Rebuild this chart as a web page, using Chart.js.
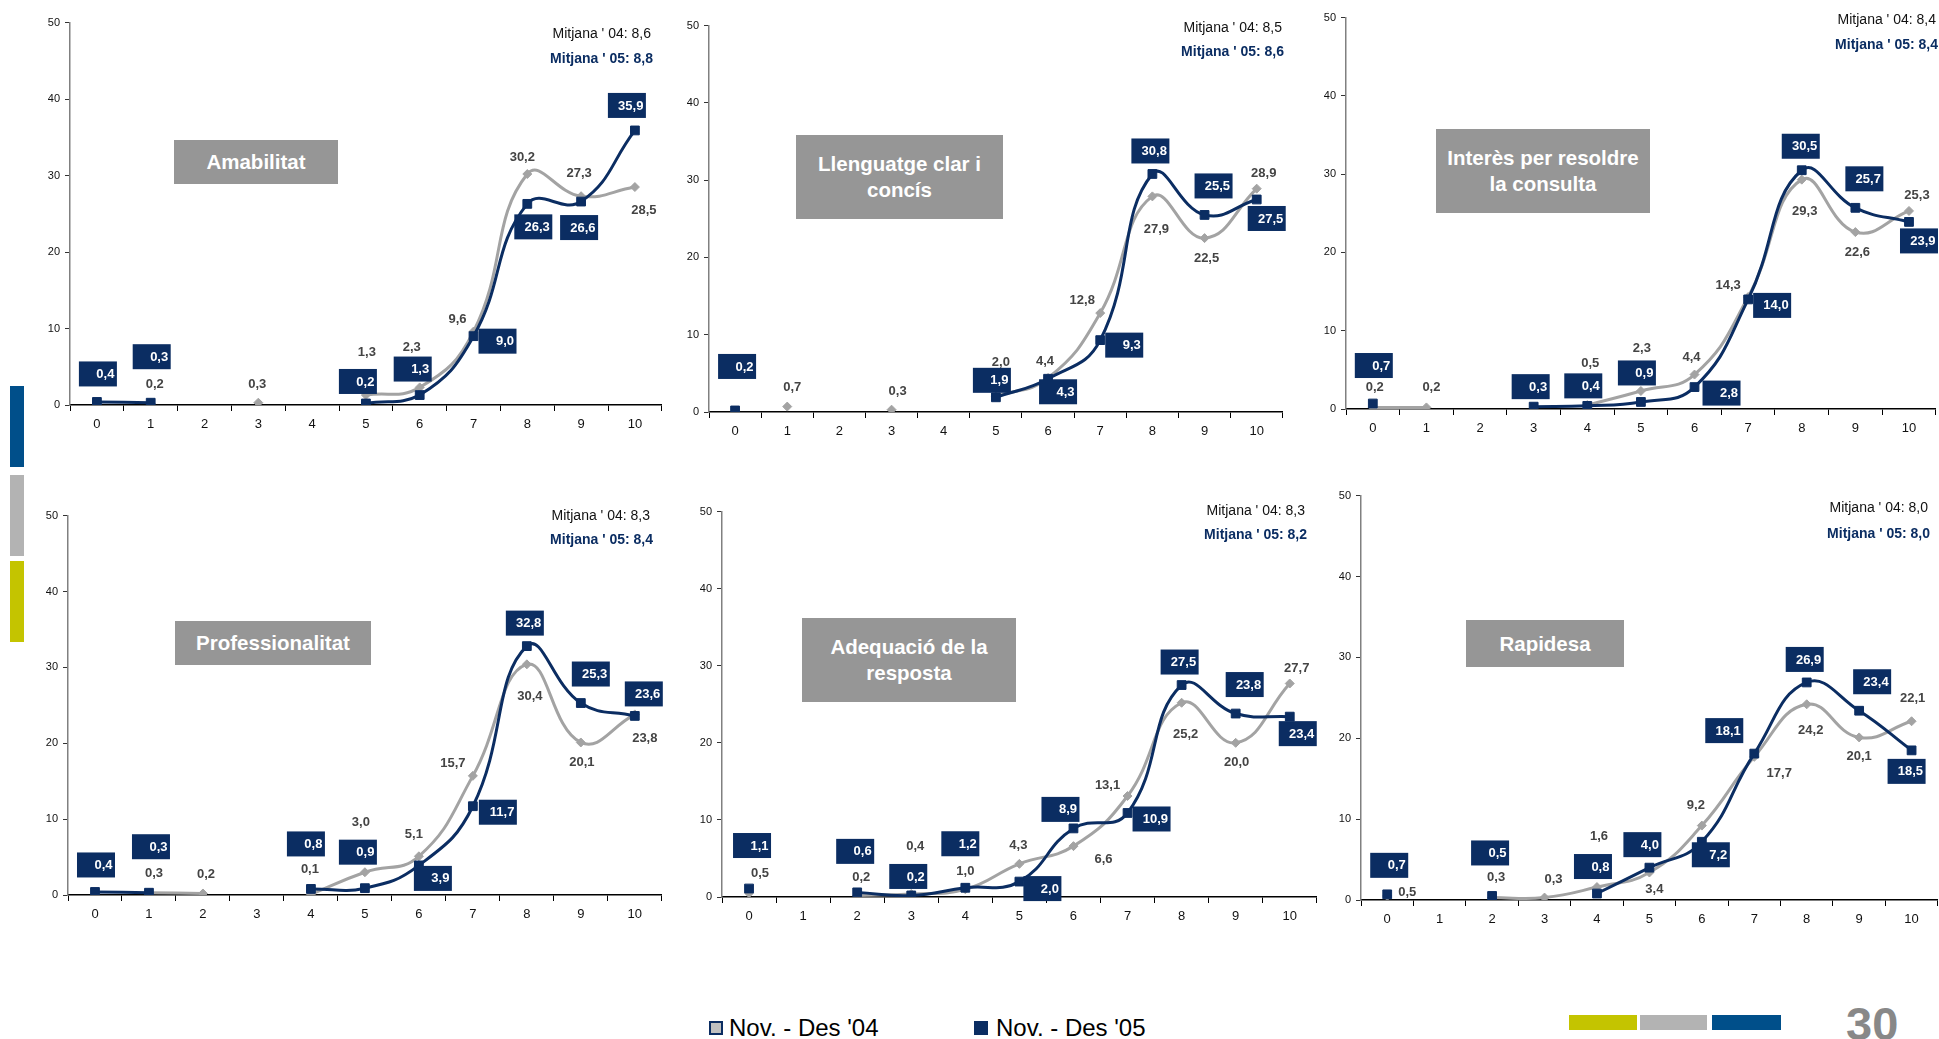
<!DOCTYPE html>
<html>
<head>
<meta charset="utf-8">
<script src="https://cdn.jsdelivr.net/npm/chart.js@4.4.1/dist/chart.umd.min.js"></script>
<style>
html, body { margin: 0; padding: 0; width: 1939px; height: 1039px; overflow: hidden; background: #fff; font-family: 'Liberation Sans', Arial, sans-serif; }
.panel { position: absolute; }
.titol { position: absolute; background: #969696; color: #fff; font-weight: bold; font-size: 20.5px; line-height: 26px; display: flex; align-items: center; justify-content: center; text-align: center; }
.mitjana { position: absolute; width: 220px; text-align: right; font-size: 14px; line-height: 16px; white-space: nowrap; }
.m04 { color: #111; }
.m05 { color: #0b2d62; font-weight: bold; }
.barra { position: absolute; }
.llegenda { position: absolute; font-size: 24px; line-height: 26px; color: #000; white-space: nowrap; }
.quadre { position: absolute; box-sizing: border-box; }
.pagina { position: absolute; left: 1846px; top: 999px; font-size: 47px; font-weight: bold; color: #888; line-height: 50px; }
</style>
</head>
<body>
<div class="barra" style="left:10px;top:386px;width:14px;height:81px;background:#004f8a"></div>
<div class="barra" style="left:10px;top:475px;width:14px;height:81px;background:#b3b3b3"></div>
<div class="barra" style="left:10px;top:561px;width:14px;height:81px;background:#c4c400"></div>

<div class="quadre" style="left:709px;top:1021px;width:14px;height:14px;background:#c0c0c0;border:2px solid #0b2d62"></div>
<div class="llegenda" style="left:729px;top:1015px">Nov. - Des '04</div>
<div class="quadre" style="left:974px;top:1021px;width:14px;height:14px;background:#0b2d62"></div>
<div class="llegenda" style="left:996px;top:1015px">Nov. - Des '05</div>

<div class="barra" style="left:1569px;top:1015px;width:68px;height:15px;background:#c4c400"></div>
<div class="barra" style="left:1640px;top:1015px;width:67px;height:15px;background:#b3b3b3"></div>
<div class="barra" style="left:1712px;top:1015px;width:69px;height:15px;background:#004f8a"></div>
<div class="pagina">30</div>

<script>
// Valoració 0-10, percentatges per puntuació
const scoreLabels = ['0', '1', '2', '3', '4', '5', '6', '7', '8', '9', '10'];
const yMax = 50;
const yStep = 10;

const titols = ['Amabilitat', 'Llenguatge clar i<br>concís', 'Interès per resoldre<br>la consulta',
    'Professionalitat', 'Adequació de la<br>resposta', 'Rapidesa'];

const amabilitat04 = [null, 0.2, null, 0.3, null, 1.3, 2.3, 9.6, 30.2, 27.3, 28.5];
const amabilitat05 = [0.4, 0.3, null, null, null, 0.2, 1.3, 9.0, 26.3, 26.6, 35.9];
const llenguatge04 = [null, 0.7, null, 0.3, null, 2.0, 4.4, 12.8, 27.9, 22.5, 28.9];
const llenguatge05 = [0.2, null, null, null, null, 1.9, 4.3, 9.3, 30.8, 25.5, 27.5];
const interes04 = [0.2, 0.2, null, null, 0.5, 2.3, 4.4, 14.3, 29.3, 22.6, 25.3];
const interes05 = [0.7, null, null, 0.3, 0.4, 0.9, 2.8, 14.0, 30.5, 25.7, 23.9];
const professionalitat04 = [null, 0.3, 0.2, null, 0.1, 3.0, 5.1, 15.7, 30.4, 20.1, 23.8];
const professionalitat05 = [0.4, 0.3, null, null, 0.8, 0.9, 3.9, 11.7, 32.8, 25.3, 23.6];
const adequacio04 = [0.5, null, 0.2, 0.4, 1.0, 4.3, 6.6, 13.1, 25.2, 20.0, 27.7];
const adequacio05 = [1.1, null, 0.6, 0.2, 1.2, 2.0, 8.9, 10.9, 27.5, 23.8, 23.4];
const rapidesa04 = [0.5, null, 0.3, 0.3, 1.6, 3.4, 9.2, 17.7, 24.2, 20.1, 22.1];
const rapidesa05 = [0.7, null, 0.5, null, 0.8, 4.0, 7.2, 18.1, 26.9, 23.4, 18.5];

const mitjana04 = [8.6, 8.5, 8.4, 8.3, 8.3, 8.0];
const mitjana05 = [8.8, 8.6, 8.4, 8.4, 8.2, 8.0];

const navy = '#0b2d62';
const grisLinia = '#a3a3a3';
const grisText = '#444';

// on va cada panell (area del grafic, caixa del titol, text de mitjanes)
const layout = [
    { plot: [70, 21, 593, 384], caixa: [174, 140, 164, 44], mit: [651, 33, 653, 58],
      off04: [null, [4, -19], null, [-1, -18], null, [1, -43], [-8, -40], [-16, -12], [-5, -17], [-2, -23], [9, 23]],
      off05: [[1, -28], [1, -46], null, null, null, [-8, -22], [-7, -26], [24, 5], [6, 23], [-2, 26], [-8, -25]] },
    { plot: [709, 24, 575, 388], caixa: [796, 135, 207, 84], mit: [1282, 27, 1284, 51],
      off04: [null, [5, -19], null, [6, -18], null, [5, -34], [-3, -17], [-18, -13], [4, 33], [2, 20], [7, -15]],
      off05: [[2, -44], null, null, null, null, [-4, -17], [10, 13], [24, 5], [-2, -23], [9, -29], [10, 19]] },
    { plot: [1346, 16, 591, 393], caixa: [1436, 129, 214, 84], mit: [1936, 19, 1938, 44],
      off04: [[2, -20], [5, -20], null, null, [3, -42], [1, -43], [-3, -17], [-20, -12], [3, 32], [2, 20], [8, -16]],
      off05: [[1, -38], null, null, [-3, -20], [-4, -20], [-4, -29], [27, 6], [24, 6], [-1, -24], [9, -29], [10, 19]] },
    { plot: [68, 514, 595, 381], caixa: [175, 621, 196, 44], mit: [650, 515, 653, 539],
      off04: [null, [5, -19], [3, -19], null, [-1, -25], [-4, -50], [-5, -22], [-20, -12], [3, 32], [1, 20], [10, 24]],
      off05: [[1, -27], [2, -46], null, null, [-5, -45], [-7, -36], [14, 13], [25, 6], [-2, -23], [10, -29], [9, -22]] },
    { plot: [722, 510, 596, 387], caixa: [802, 618, 214, 84], mit: [1305, 510, 1307, 534],
      off04: [[11, -20], null, [4, -18], [4, -47], [0, -18], [-1, -18], [30, 13], [-20, -11], [4, 32], [1, 20], [7, -15]],
      off05: [[3, -43], null, [-2, -41], [-3, -19], [-5, -44], [23, 7], [-13, -19], [24, 6], [-2, -23], [9, -29], [8, 17]] },
    { plot: [1361, 494, 578, 406], caixa: [1466, 620, 158, 47], mit: [1928, 507, 1930, 533],
      off04: [[20, -4], null, [4, -20], [9, -18], [2, -51], [5, 17], [-6, -20], [25, 17], [4, 26], [0, 19], [1, -23]],
      off05: [[2, -29], null, [-2, -43], null, [-4, -27], [-7, -23], [9, 13], [-30, -23], [-2, -23], [13, -29], [-5, 21]] }
];

const series04 = [amabilitat04, llenguatge04, interes04, professionalitat04, adequacio04, rapidesa04];
const series05 = [amabilitat05, llenguatge05, interes05, professionalitat05, adequacio05, rapidesa05];

Chart.defaults.font.family = "'Liberation Sans', Arial, sans-serif";

function fmt(v) {
    return v.toFixed(1).replace('.', ',');
}

function crearEtiquetes(d04, d05, lay) {
    return {
        id: 'etiquetes',
        afterDatasetsDraw(chart) {
            const ctx = chart.ctx;
            ctx.save();
            ctx.font = "bold 13px 'Liberation Sans', Arial, sans-serif";
            ctx.textBaseline = 'middle';

            const meta04 = chart.getDatasetMeta(1);
            d04.forEach((v, i) => {
                if (v === null) return;
                const pt = meta04.data[i];
                const o = lay.off04[i] || [0, -18];
                ctx.fillStyle = grisText;
                ctx.textAlign = 'center';
                ctx.fillText(fmt(v), pt.x + o[0], pt.y + o[1]);
            });

            const meta05 = chart.getDatasetMeta(0);
            d05.forEach((v, i) => {
                if (v === null) return;
                const pt = meta05.data[i];
                const o = lay.off05[i] || [0, -26];
                const cx = pt.x + o[0];
                const cy = pt.y + o[1];
                ctx.fillStyle = navy;
                ctx.fillRect(cx - 19, cy - 12.5, 38, 25);
                ctx.fillStyle = '#fff';
                ctx.textAlign = 'right';
                ctx.fillText(fmt(v), cx + 16.5, cy + 0.5);
            });
            ctx.restore();
        }
    };
}

function crearPanell(idx) {
    const lay = layout[idx];
    const [px, py, pw, ph] = lay.plot;
    const padTop = 10, padRight = 6, yW = 44, xH = 34;

    const wrap = document.createElement('div');
    wrap.className = 'panel';
    wrap.style.left = (px - yW) + 'px';
    wrap.style.top = (py - padTop) + 'px';
    wrap.style.width = (pw + yW + padRight) + 'px';
    wrap.style.height = (ph + padTop + xH) + 'px';
    const canvas = document.createElement('canvas');
    wrap.appendChild(canvas);
    document.body.appendChild(wrap);

    // caixa del titol
    const t = document.createElement('div');
    t.className = 'titol';
    const [bx, by, bw, bh] = lay.caixa;
    t.style.left = bx + 'px';
    t.style.top = by + 'px';
    t.style.width = bw + 'px';
    t.style.height = bh + 'px';
    t.innerHTML = titols[idx];
    document.body.appendChild(t);

    // mitjanes
    const m1 = document.createElement('div');
    m1.className = 'mitjana m04';
    m1.style.left = (lay.mit[0] - 220) + 'px';
    m1.style.top = (lay.mit[1] - 8) + 'px';
    m1.textContent = "Mitjana ' 04: " + fmt(mitjana04[idx]);
    document.body.appendChild(m1);
    const m2 = document.createElement('div');
    m2.className = 'mitjana m05';
    m2.style.left = (lay.mit[2] - 220) + 'px';
    m2.style.top = (lay.mit[3] - 8) + 'px';
    m2.textContent = "Mitjana ' 05: " + fmt(mitjana05[idx]);
    document.body.appendChild(m2);

    const d04 = series04[idx];
    const d05 = series05[idx];

    new Chart(canvas, {
        type: 'line',
        data: {
            labels: scoreLabels,
            datasets: [
                {
                    label: "Nov. - Des '05",
                    data: d05,
                    borderColor: navy,
                    backgroundColor: navy,
                    borderWidth: 3,
                    pointStyle: 'rect',
                    pointRadius: 6.2,
                    pointBorderWidth: 1,
                    pointBorderColor: navy,
                    pointBackgroundColor: navy,
                    tension: 0.45,
                    order: 0
                },
                {
                    label: "Nov. - Des '04",
                    data: d04,
                    borderColor: grisLinia,
                    backgroundColor: grisLinia,
                    borderWidth: 3,
                    pointStyle: 'rectRot',
                    pointRadius: 4.5,
                    pointBorderWidth: 1,
                    pointBorderColor: grisLinia,
                    pointBackgroundColor: grisLinia,
                    tension: 0.45,
                    order: 1
                }
            ]
        },
        options: {
            responsive: true,
            maintainAspectRatio: false,
            animation: false,
            layout: { padding: { top: padTop, right: padRight, left: 0, bottom: 0 } },
            plugins: { legend: { display: false }, tooltip: { enabled: false } },
            scales: {
                x: {
                    offset: true,
                    grid: { offset: true, drawOnChartArea: false, tickLength: 6, color: '#000' },
                    border: { color: '#000', width: 1.5 },
                    ticks: { color: '#111', font: { size: 13 }, padding: 6, maxRotation: 0, autoSkip: false },
                    afterFit: (s) => { s.height = xH; }
                },
                y: {
                    min: 0,
                    max: yMax,
                    ticks: { stepSize: yStep, color: '#111', font: { size: 11 }, padding: 5 },
                    grid: { drawOnChartArea: false, tickLength: 5, color: '#333' },
                    border: { color: '#808080', width: 1.5 },
                    afterFit: (s) => { s.width = yW; }
                }
            }
        },
        plugins: [crearEtiquetes(d04, d05, lay)]
    });
}

for (let i = 0; i < 6; i++) {
    crearPanell(i);
}
</script>
</body>
</html>
